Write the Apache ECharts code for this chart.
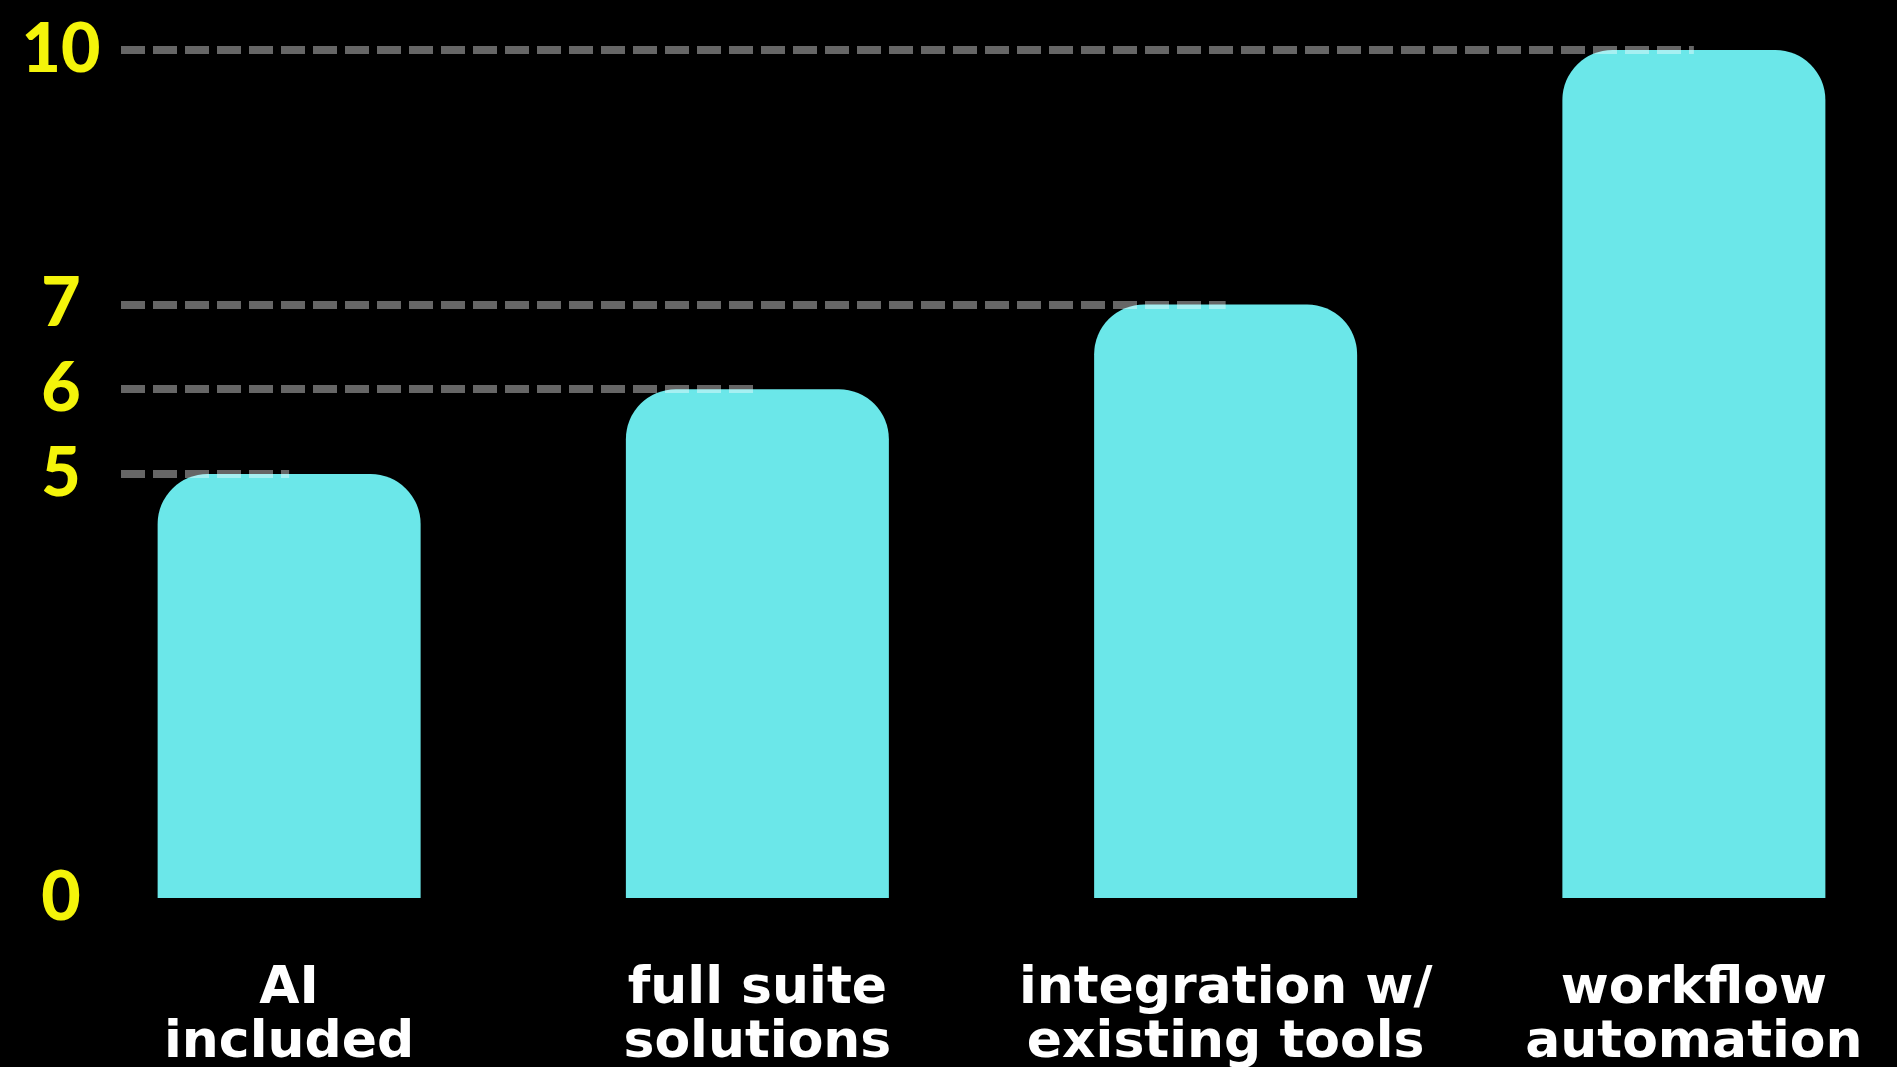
<!DOCTYPE html>
<html>
<head>
<meta charset="utf-8">
<style>
  html, body { margin: 0; padding: 0; background: #000; }
  #chart { width: 1897px; height: 1067px; }
</style>
<script src="https://cdn.jsdelivr.net/npm/echarts@6/dist/echarts.min.js"></script>
</head>
<body>
<div id="chart"></div>
<script>
  // categories and values
  const categories = ['AI\nincluded', 'full suite\nsolutions', 'integration w/\nexisting tools', 'workflow\nautomation']
  const values = [5, 6, 7, 10]
  // only these ticks get a label on the y axis
  const yTickLabels = [0, 5, 6, 7, 10]

  const chart = echarts.init(document.getElementById('chart'))

  // dashed guide from the axis to the top of each bar
  const guides = values.map((v, i) => [
    { x: 121, yAxis: v },
    { coord: [categories[i], v] }
  ])

  chart.setOption({
    backgroundColor: '#000',
    animation: false,
    grid: {
      left: 55,
      right: -31,
      top: 50,
      bottom: 169,
      containLabel: false,
      outerBoundsMode: 'none'
    },
    xAxis: {
      type: 'category',
      data: categories,
      axisLine: { show: false },
      axisTick: { show: false },
      axisLabel: {
        color: '#fff',
        fontFamily: 'DejaVu Sans',
        fontWeight: 'bold',
        fontSize: 52,
        lineHeight: 54,
        margin: 64,
        interval: 0
      }
    },
    yAxis: {
      type: 'value',
      min: 0,
      max: 10,
      interval: 1,
      splitLine: { show: false },
      axisLine: { show: false },
      axisTick: { show: false },
      axisLabel: {
        color: '#f4f40a',
        fontFamily: 'Lato',
        fontWeight: 900,
        fontSize: 68,
        align: 'center',
        margin: -6,
        formatter: (v) => (yTickLabels.includes(v) ? String(v) : '')
      }
    },
    series: [
      {
        type: 'bar',
        data: values,
        barWidth: 263,
        itemStyle: {
          color: '#6be7e9',
          borderRadius: [50, 50, 0, 0]
        },
        markLine: {
          silent: true,
          symbol: ['none', 'none'],
          label: { show: false },
          lineStyle: {
            color: 'rgba(255,255,255,0.4)',
            width: 8,
            type: [24, 8]
          },
          data: guides
        }
      }
    ]
  })
</script>
</body>
</html>
